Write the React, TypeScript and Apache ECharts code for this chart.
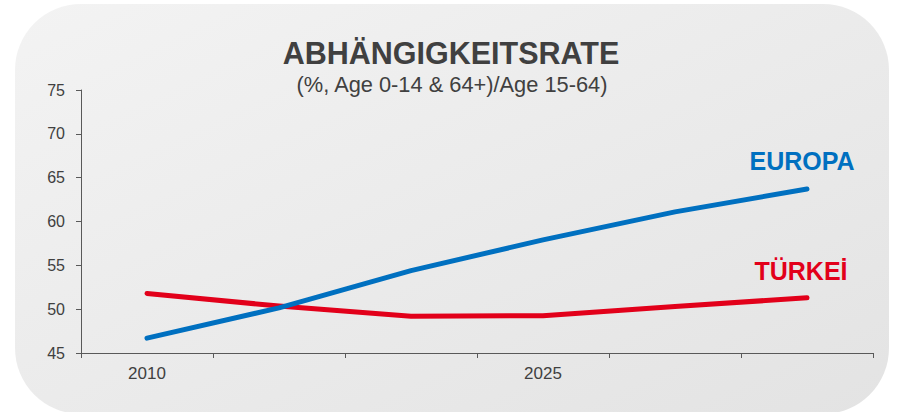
import React, { useEffect, useRef } from "react";
import * as echarts from "echarts";

const years = ["2010", "2015", "2020", "2025", "2030", "2035"];
const europa = [46.7, 50.15, 54.4, 57.9, 61.1, 63.7];
const tuerkei = [51.8, 50.35, 49.2, 49.25, 50.3, 51.3];
const yMin = 45;
const yMax = 75;
const yStep = 5;

const titleText = "ABHÄNGIGKEITSRATE";
const subtitleText = "(%, Age 0-14 & 64+)/Age 15-64)";
const europaName = "EUROPA";
const tuerkeiName = "TÜRKEİ";

const FONT = "'Liberation Sans', Arial, sans-serif";

export default function App() {
  const ref = useRef<HTMLDivElement>(null);
  useEffect(() => {
    if (!ref.current) return;
    const chart = echarts.init(ref.current, null, { renderer: "svg" });
    chart.setOption({
      animation: false,
      textStyle: { fontFamily: FONT },
      graphic: [
        {
          type: "rect",
          z: -10,
          silent: true,
          shape: { x: 15, y: 4, width: 874, height: 410, r: 66 },
          style: {
            fill: new echarts.graphic.LinearGradient(0, 0, 1, 1, [
              { offset: 0, color: "#f3f3f3" },
              { offset: 1, color: "#e3e3e3" },
            ]),
          },
        },
        {
          type: "text",
          x: 451,
          y: 53,
          style: {
            text: titleText,
            font: `bold 30.5px ${FONT}`,
            fill: "#404040",
            align: "center",
            verticalAlign: "middle",
          },
        },
        {
          type: "text",
          x: 452,
          y: 84,
          style: {
            text: subtitleText,
            font: `21.8px ${FONT}`,
            fill: "#404040",
            align: "center",
            verticalAlign: "middle",
          },
        },
        {
          type: "text",
          x: 802,
          y: 161,
          style: {
            text: europaName,
            font: `bold 25px ${FONT}`,
            fill: "#0070C0",
            align: "center",
            verticalAlign: "middle",
          },
        },
        {
          type: "text",
          x: 801,
          y: 271,
          style: {
            text: tuerkeiName,
            font: `bold 25px ${FONT}`,
            fill: "#E2001A",
            align: "center",
            verticalAlign: "middle",
          },
        },
      ],
      grid: { left: 81, right: 42, top: 90, bottom: 59, containLabel: false },
      xAxis: {
        type: "category",
        data: years,
        boundaryGap: true,
        axisLine: { show: true, lineStyle: { color: "#595959", width: 1 } },
        axisTick: { show: true, interval: 0, length: 5, lineStyle: { color: "#595959" } },
        axisLabel: {
          interval: 2,
          color: "#404040",
          fontSize: 17,
          margin: 12,
          fontFamily: FONT,
        },
        splitLine: { show: false },
      },
      yAxis: {
        type: "value",
        min: yMin,
        max: yMax,
        interval: yStep,
        axisLine: { show: true, lineStyle: { color: "#595959", width: 1 } },
        axisTick: { show: true, length: 5, lineStyle: { color: "#595959" } },
        axisLabel: { color: "#404040", fontSize: 16, margin: 16, fontFamily: FONT },
        splitLine: { show: false },
      },
      series: [
        {
          name: europaName,
          type: "line",
          data: europa,
          symbol: "none",
          lineStyle: { color: "#0070C0", width: 5, cap: "round", join: "round" },
          z: 3,
        },
        {
          name: tuerkeiName,
          type: "line",
          data: tuerkei,
          symbol: "none",
          lineStyle: { color: "#E2001A", width: 5, cap: "round", join: "round" },
          z: 2,
        },
      ],
    });
    return () => chart.dispose();
  }, []);
  return (
    <div
      ref={ref}
      style={{ position: "absolute", left: 0, top: 0, width: 915, height: 412, background: "#ffffff" }}
    />
  );
}
